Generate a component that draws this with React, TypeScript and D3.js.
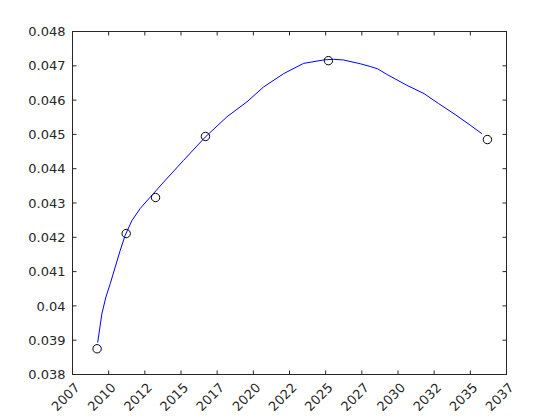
import React from "react";
import * as d3 from "d3";

const xTickValues = [2007, 2009.5, 2012, 2014.5, 2017, 2019.5, 2022, 2024.5, 2027, 2029.5, 2032, 2034.5, 2037];
const xTickLabels = ["2007", "2010", "2012", "2015", "2017", "2020", "2022", "2025", "2027", "2030", "2032", "2035", "2037"];
const yTickValues = [0.038, 0.039, 0.04, 0.041, 0.042, 0.043, 0.044, 0.045, 0.046, 0.047, 0.048];
const yTickLabels = ["0.038", "0.039", "0.04", "0.041", "0.042", "0.043", "0.044", "0.045", "0.046", "0.047", "0.048"];

const curveYears = [2008.74, 2009.03, 2009.31, 2009.61, 2009.95, 2010.3, 2010.64, 2011.11, 2011.68, 2012.37, 2013.41, 2014.67, 2016.17, 2017.67, 2019.06, 2020.2, 2021.59, 2022.97, 2024.35, 2025.04, 2025.73, 2026.89, 2027.58, 2028.1, 2028.73, 2030.12, 2031.3, 2032.3, 2033.45, 2034.49, 2035.3];
const curveValues = [0.03893, 0.03977, 0.04026, 0.04065, 0.04113, 0.04162, 0.04206, 0.04249, 0.04284, 0.04317, 0.04366, 0.04424, 0.04492, 0.04551, 0.04595, 0.04638, 0.04677, 0.04707, 0.04717, 0.04719, 0.04717, 0.04706, 0.04698, 0.04691, 0.04675, 0.04643, 0.04619, 0.0459, 0.04558, 0.04527, 0.04502];

const pointYears = [2008.7, 2010.71, 2012.74, 2016.19, 2024.69, 2035.68];
const pointValues = [0.03875, 0.04211, 0.04316, 0.04494, 0.04715, 0.04485];

const W = 560, H = 420;
const left = 72.5, right = 506.5, top = 31.5, bottom = 374.5;
const axisColor = "#262626";
const font = "'DejaVu Sans', sans-serif";

export default function App() {
  const x = d3.scaleLinear().domain([2007, 2037]).range([left, right]);
  const y = d3.scaleLinear().domain([0.038, 0.048]).range([bottom, top]);
  const curve = curveYears.map((yr, i) => [yr, curveValues[i]] as [number, number]);
  const line = d3.line<[number, number]>().x(d => x(d[0])).y(d => y(d[1]));
  const tickLen = 4;
  return (
    <div style={{ position: "fixed", left: 0, top: 0 }}>
      <svg width={W} height={H} style={{ display: "block", background: "#fff" }}>
        <rect x={0} y={0} width={W} height={H} fill="#fff" />
        <path d={line(curve) || ""} fill="none" stroke="#0000ff" strokeWidth={1} />
        {pointYears.map((yr, i) => (
          <circle key={i} cx={x(yr)} cy={y(pointValues[i])} r={4.2} fill="none" stroke="#000" strokeWidth={1} />
        ))}
        <rect x={left} y={top} width={right - left} height={bottom - top} fill="none" stroke={axisColor} strokeWidth={1} />
        {xTickValues.map((v, i) => (
          <g key={"x" + i}>
            <line x1={x(v)} x2={x(v)} y1={bottom} y2={bottom - tickLen} stroke={axisColor} />
            <line x1={x(v)} x2={x(v)} y1={top} y2={top + tickLen} stroke={axisColor} />
            <text
              transform={`translate(${x(v) + 8},${bottom + 14}) rotate(-45)`}
              textAnchor="end"
              fontFamily={font}
              fontSize={13}
              fill={axisColor}
            >
              {xTickLabels[i]}
            </text>
          </g>
        ))}
        {yTickValues.map((v, i) => (
          <g key={"y" + i}>
            <line x1={left} x2={left + tickLen} y1={y(v)} y2={y(v)} stroke={axisColor} />
            <line x1={right} x2={right - tickLen} y1={y(v)} y2={y(v)} stroke={axisColor} />
            <text
              x={left - 7}
              y={y(v)}
              dy="0.36em"
              textAnchor="end"
              fontFamily={font}
              fontSize={13}
              fill={axisColor}
            >
              {yTickLabels[i]}
            </text>
          </g>
        ))}
      </svg>
    </div>
  );
}
